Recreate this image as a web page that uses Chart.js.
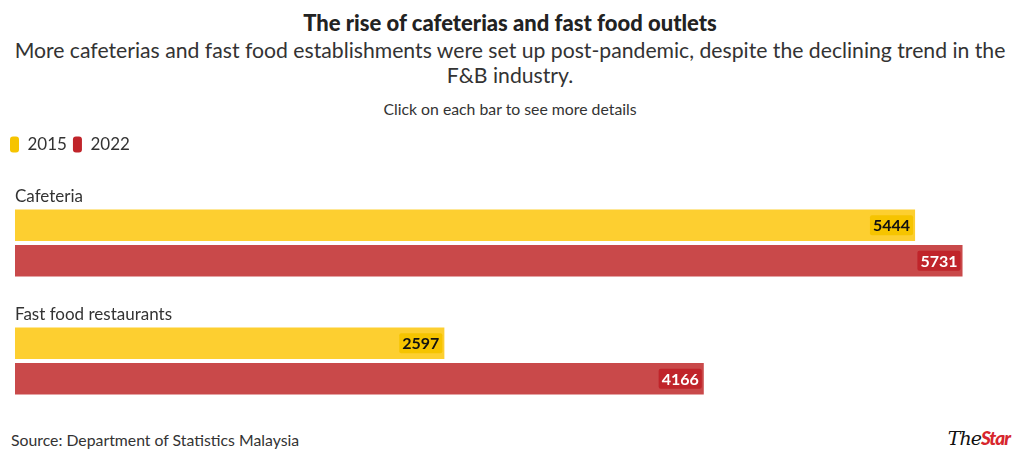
<!DOCTYPE html>
<html>
<head>
<meta charset="utf-8">
<script src="https://cdn.jsdelivr.net/npm/chart.js@4.4.1/dist/chart.umd.min.js"></script>
<style>
  body { margin: 0; width: 1020px; height: 464px; overflow: hidden; background: #fff; font-family: Lato, "Noto Sans", sans-serif; color: #333; position: relative; }
  .txt { position: absolute; left: 0; width: 1020px; text-align: center; white-space: nowrap; }
  #title { top: 9px; font-size: 22px; font-weight: 900; color: #222; }
  #sub { top: 38px; font-size: 21.2px; line-height: 25px; color: #333; }
  #note { top: 99px; font-size: 15.8px; color: #333; }
  #source { position: absolute; left: 11px; top: 430px; font-size: 15.8px; color: #333; }
  #logo { position: absolute; right: 10px; top: 426px; font-size: 19px; font-style: italic; letter-spacing: -1px; }
  #logo .a { font-family: "DejaVu Serif", serif; color: #111; font-weight: 400; }
  #logo .b { color: #d7262d; font-weight: 900; }
  #wrap { position: absolute; left: 0; top: 125px; width: 1020px; height: 300px; }
</style>
</head>
<body>
<div id="title" class="txt">The rise of cafeterias and fast food outlets</div>
<div id="sub" class="txt">More cafeterias and fast food establishments were set up post-pandemic, despite the declining trend in the<br>F&amp;B industry.</div>
<div id="note" class="txt">Click on each bar to see more details</div>
<div id="wrap"><canvas id="myChart"></canvas></div>
<div id="source">Source: Department of Statistics Malaysia</div>
<div id="logo"><span class="a">The</span><span class="b">Star</span></div>
<script>
const categories = ['Cafeteria', 'Fast food restaurants']
const years = ['2015', '2022']
const values2015 = [5444, 2597]
const values2022 = [5731, 4166]

const barColors = ['rgb(253, 207, 48)', 'rgb(201, 73, 74)']
const fullColors = ['rgb(246, 196, 0)', 'rgb(192, 36, 42)']
const labelText = ['#111', '#fff']

// category names sit above each pair of bars
const categoryLabels = {
  id: 'categoryLabels',
  afterDatasetsDraw(chart) {
    const ctx = chart.ctx
    const meta = chart.getDatasetMeta(0)
    ctx.save()
    ctx.font = '17px Lato, "Noto Sans", sans-serif'
    ctx.fillStyle = '#333'
    ctx.textAlign = 'left'
    ctx.textBaseline = 'middle'
    meta.data.forEach((bar, i) => {
      ctx.fillText(categories[i], chart.chartArea.left, bar.y - bar.height / 2 - 13)
    })
    ctx.restore()
  }
}

// value labels at the end of each bar
const valueLabels = {
  id: 'valueLabels',
  afterDatasetsDraw(chart) {
    const ctx = chart.ctx
    ctx.save()
    ctx.font = 'bold 16px Lato, "Noto Sans", sans-serif'
    ctx.textAlign = 'right'
    ctx.textBaseline = 'middle'
    chart.data.datasets.forEach((ds, d) => {
      chart.getDatasetMeta(d).data.forEach((bar, i) => {
        const txt = String(ds.data[i])
        const w = ctx.measureText(txt).width
        const right = bar.x - 5
        ctx.fillStyle = fullColors[d]
        ctx.beginPath()
        ctx.roundRect(right - w - 3, bar.y - 10, w + 6, 20, 2)
        ctx.fill()
        ctx.fillStyle = labelText[d]
        ctx.fillText(txt, right, bar.y + 1)
      })
    })
    ctx.restore()
  }
}

const data = {
  labels: categories,
  datasets: [{
    label: years[0],
    data: values2015,
    backgroundColor: barColors[0]
  }, {
    label: years[1],
    data: values2022,
    backgroundColor: barColors[1]
  }]
}

new Chart(document.getElementById('myChart'), {
  type: 'bar',
  data,
  plugins: [categoryLabels, valueLabels],
  options: {
    indexAxis: 'y',
    animation: false,
    responsive: true,
    maintainAspectRatio: false,
    categoryPercentage: 0.6,
    barPercentage: 0.89,
    layout: { padding: { left: 4, right: 13, top: 5, bottom: 5 } },
    scales: {
      x: {
        position: 'top',
        min: 0,
        max: 6000,
        grid: { display: false },
        border: { display: false },
        ticks: { display: false },
        afterFit: s => { s.height = 21 }
      },
      y: {
        grid: { display: false },
        border: { display: false },
        ticks: { display: false },
        afterFit: s => { s.width = 11 }
      }
    },
    plugins: {
      tooltip: { enabled: false },
      legend: {
        align: 'start',
        labels: {
          boxWidth: 9,
          boxHeight: 16,
          useBorderRadius: true,
          borderRadius: 3,
          padding: 6,
          color: '#333',
          font: { size: 17, family: 'Lato, "Noto Sans", sans-serif' },
          generateLabels: chart => chart.data.datasets.map((ds, i) => ({
            text: ds.label,
            fillStyle: fullColors[i],
            strokeStyle: fullColors[i],
            lineWidth: 0,
            borderRadius: 3,
            fontColor: '#333',
            datasetIndex: i
          }))
        }
      }
    }
  }
})
</script>
</body>
</html>
